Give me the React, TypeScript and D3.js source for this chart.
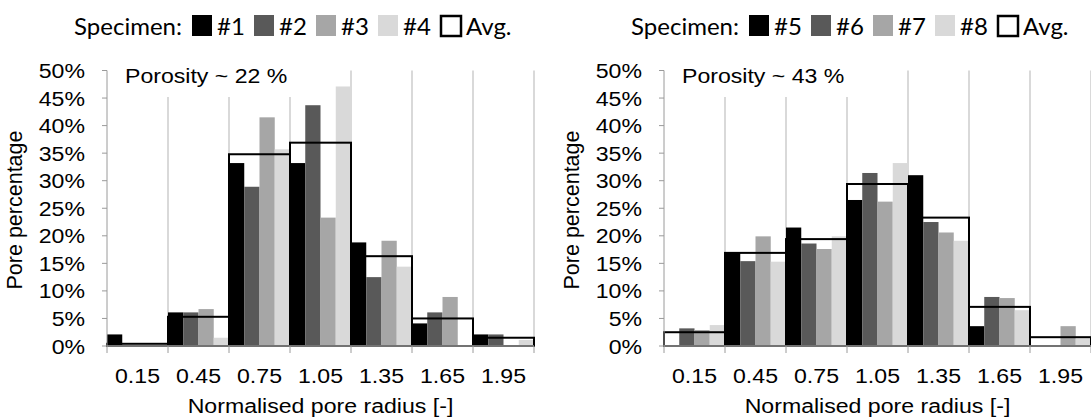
import React from "react";
import * as d3 from "d3";

// bin centres (normalised pore radius), bin width 0.3
const bins = ["0.15", "0.45", "0.75", "1.05", "1.35", "1.65", "1.95"];
const yTicks = [0, 0.05, 0.1, 0.15, 0.2, 0.25, 0.3, 0.35, 0.4, 0.45, 0.5];

// porosity ~22 %
const spec1 = [0.021, 0.061, 0.332, 0.332, 0.188, 0.041, 0.021];
const spec2 = [0, 0.061, 0.289, 0.437, 0.125, 0.061, 0.021];
const spec3 = [0, 0.067, 0.415, 0.233, 0.191, 0.089, 0];
const spec4 = [0, 0.015, 0.357, 0.471, 0.144, 0, 0.011];
const avgLow = [0.004, 0.053, 0.348, 0.369, 0.163, 0.05, 0.015];

// porosity ~43 %
const spec5 = [0, 0.17, 0.215, 0.265, 0.31, 0.036, 0];
const spec6 = [0.032, 0.154, 0.186, 0.314, 0.225, 0.089, 0];
const spec7 = [0.029, 0.199, 0.176, 0.262, 0.206, 0.087, 0.036];
const spec8 = [0.038, 0.153, 0.199, 0.332, 0.191, 0.065, 0.014];
const avgHigh = [0.025, 0.169, 0.194, 0.294, 0.233, 0.071, 0.016];

const fills = ["#000000", "#595959", "#a6a6a6", "#d9d9d9"];
const grid = "#b3b3b3";
const axisCol = "#9a9a9a";
const font = "'Liberation Sans', Arial, sans-serif";
const SX = 1.1;

function T(props: any) {
  const { x, y, anchor = "start", size = 21, children, family = font, sx = SX } = props;
  return (
    <text
      transform={`translate(${x},${y}) scale(${sx},1)`}
      textAnchor={anchor}
      fontFamily={family}
      fontSize={size}
      fill="#000"
    >
      {children}
    </text>
  );
}

function Panel(props: any) {
  const { left, series, avg, names, porosity } = props;
  const x = d3.scaleLinear().domain([0, 2.1]).range([left, left + 427]);
  const y = d3.scaleLinear().domain([0, 0.5]).range([346, 70.5]);
  const pct = d3.format(".0%");
  const half = 0.15;
  const edges = d3.range(8).map((i) => i * 0.3);
  const sub = d3.scaleBand().domain(d3.range(4).map(String)).range([0, x(0.3) - x(0)]);

  return (
    <g>
      {/* vertical gridlines */}
      {edges.slice(1).map((e) => (
        <line key={e} x1={x(e)} x2={x(e)} y1={y(0)} y2={y(0.5)} stroke={grid} strokeWidth={1} />
      ))}
      {/* porosity label box */}
      <rect x={left + 1} y={55} width={184} height={42} fill="#fff" />
      <T x={left + 18} y={83}>{porosity}</T>

      {/* specimen bars */}
      {series.map((s: number[], si: number) =>
        s.map((v, bi) => {
          const c = +bins[bi];
          return (
            <rect
              key={`${si}-${bi}`}
              x={x(c - half) + (sub(String(si)) as number)}
              y={y(v)}
              width={sub.bandwidth()}
              height={y(0) - y(v)}
              fill={fills[si]}
            />
          );
        })
      )}

      {/* average outline */}
      {avg.map((v: number, bi: number) => {
        const c = +bins[bi];
        return (
          <rect
            key={bi}
            x={x(c - half)}
            y={y(v)}
            width={x(c + half) - x(c - half)}
            height={y(0) - y(v)}
            fill="none"
            stroke="#000"
            strokeWidth={2}
          />
        );
      })}

      {/* y axis */}
      <line x1={x(0)} x2={x(0)} y1={y(0)} y2={y(0.5)} stroke={axisCol} strokeWidth={1} />
      {yTicks.map((t) => (
        <g key={t}>
          <line x1={x(0) - 5} x2={x(0)} y1={y(t)} y2={y(t)} stroke={axisCol} />
          <T x={x(0) - 22} y={y(t) + 7.5} anchor="end">{pct(t)}</T>
        </g>
      ))}

      {/* x axis */}
      <line x1={x(0)} x2={x(2.1)} y1={y(0)} y2={y(0)} stroke={axisCol} strokeWidth={1.5} />
      {edges.map((e) => (
        <line key={e} x1={x(e)} x2={x(e)} y1={y(0)} y2={y(0) + 7} stroke={axisCol} />
      ))}
      {bins.map((b) => (
        <T key={b} x={x(+b)} y={383} anchor="middle">{b}</T>
      ))}
      <T x={(x(0) + x(2.1)) / 2} y={413} anchor="middle">Normalised pore radius [-]</T>
      <text
        transform={`translate(${left - 85},210) rotate(-90)`}
        textAnchor="middle"
        fontFamily={font}
        fontSize={21.5}
      >
        Pore percentage
      </text>

      {/* legend */}
      <text x={left + 75} y={35} textAnchor="end" fontFamily="Lato, sans-serif" fontSize={24}>
        Specimen:
      </text>
      {names.map((n: string, i: number) => (
        <g key={n}>
          <rect x={left + 85 + i * 62} y={15} width={20} height={21} fill={fills[i]} />
          <text x={left + 110 + i * 62} y={35} fontFamily="Lato, sans-serif" fontSize={24}>
            {n}
          </text>
        </g>
      ))}
      <rect x={left + 334} y={16} width={20} height={20} fill="#fff" stroke="#000" strokeWidth={2.5} />
      <text x={left + 359} y={35} fontFamily="Lato, sans-serif" fontSize={24}>
        Avg.
      </text>
    </g>
  );
}

export default function App() {
  return (
    <svg
      width={1091}
      height={419}
      style={{ position: "absolute", left: 0, top: 0, background: "#fff" }}
    >
      <rect width={1091} height={419} fill="#fff" />
      <Panel
        left={107}
        series={[spec1, spec2, spec3, spec4]}
        avg={avgLow}
        names={["#1", "#2", "#3", "#4"]}
        porosity="Porosity ~ 22 %"
      />
      <Panel
        left={664}
        series={[spec5, spec6, spec7, spec8]}
        avg={avgHigh}
        names={["#5", "#6", "#7", "#8"]}
        porosity="Porosity ~ 43 %"
      />
    </svg>
  );
}
